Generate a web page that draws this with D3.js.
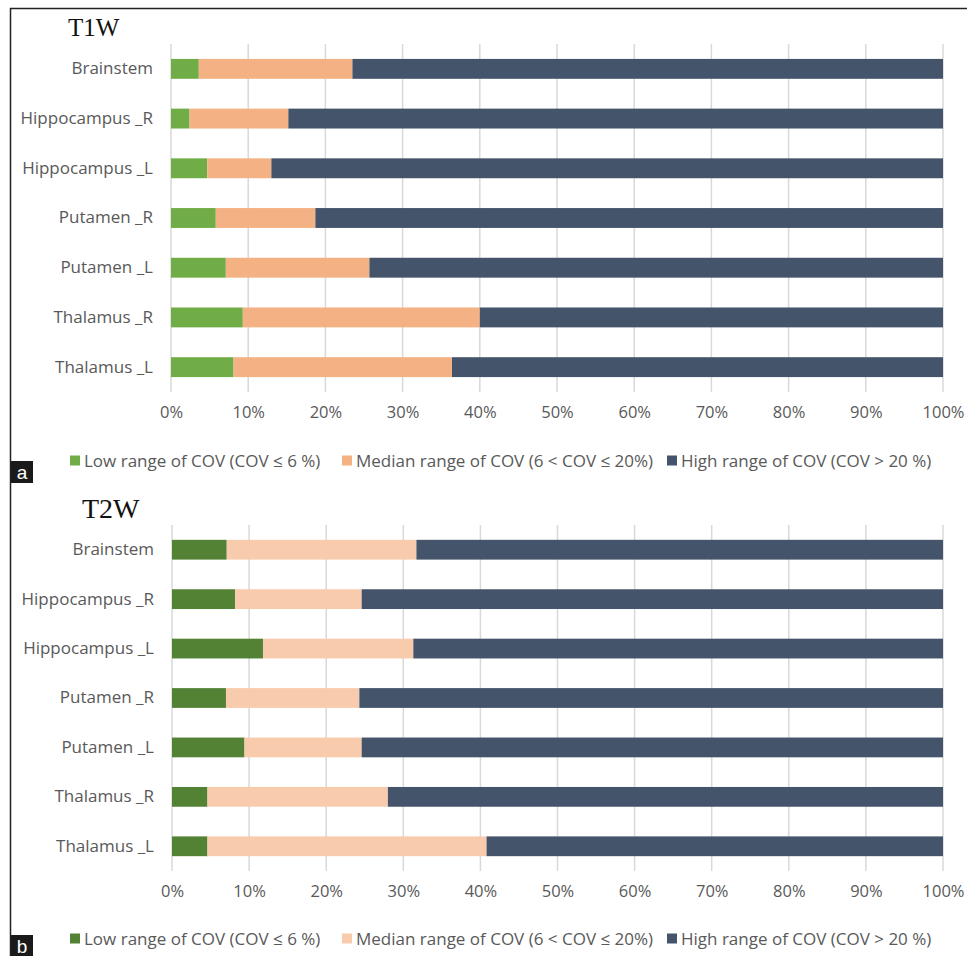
<!DOCTYPE html>
<html>
<head>
<meta charset="utf-8">
<script src="https://cdn.jsdelivr.net/npm/d3@7"></script>
<style>
  body { margin: 0; background: #fff; }
  svg { display: block; }
</style>
</head>
<body>
<svg id="chart" width="967" height="956"></svg>
<script>
// ---- Data ----
const categories = ["Brainstem", "Hippocampus _R", "Hippocampus _L", "Putamen _R", "Putamen _L", "Thalamus _R", "Thalamus _L"];
const seriesNames = ["Low range of COV (COV \u2264 6 %)", "Median range of COV (6 < COV \u2264 20%)", "High range of COV (COV > 20 %)"];
// T1W (percent)
const t1wLow    = [3.6, 2.4, 4.7, 5.8, 7.1, 9.3, 8.1];
const t1wMedian = [19.9, 12.8, 8.3, 12.9, 18.6, 30.7, 28.3];
const t1wHigh   = [76.5, 84.8, 87.0, 81.3, 74.3, 60.0, 63.6];
// T2W (percent)
const t2wLow    = [7.1, 8.2, 11.8, 7.0, 9.4, 4.6, 4.6];
const t2wMedian = [24.6, 16.4, 19.5, 17.3, 15.2, 23.4, 36.2];
const t2wHigh   = [68.3, 75.4, 68.7, 75.7, 75.4, 72.0, 59.2];
const tickValues = [0, 10, 20, 30, 40, 50, 60, 70, 80, 90, 100];

const svg = d3.select("#chart");
const FONT = "'Open Sans', 'Noto Sans', sans-serif";
const TEXT_COLOR = "#595959";

// outer frame lines
svg.append("line").attr("x1", 10.5).attr("x2", 10.5).attr("y1", 8).attr("y2", 956)
  .attr("stroke", "#222").attr("stroke-width", 1.5);
svg.append("line").attr("x1", 10).attr("x2", 967).attr("y1", 8.5).attr("y2", 8.5)
  .attr("stroke", "#222").attr("stroke-width", 1.5);

function drawPanel(cfg) {
  const g = svg.append("g");
  const x = d3.scaleLinear().domain([0, 100]).range([cfg.x0, cfg.x1]);
  const y = d3.scaleBand().domain(categories).range([cfg.yTop, cfg.yBottom])
    .paddingInner(0.6).paddingOuter(0.3);

  // title
  g.append("text").attr("x", cfg.titleX).attr("y", cfg.titleY)
    .attr("font-family", "'Liberation Serif', 'Times New Roman', serif")
    .attr("font-size", cfg.titleSize).attr("fill", "#111").text(cfg.title);

  // gridlines
  g.append("g").selectAll("line").data(tickValues).join("line")
    .attr("x1", d => x(d)).attr("x2", d => x(d))
    .attr("y1", cfg.yTop).attr("y2", cfg.yBottom)
    .attr("stroke", "#d9d9d9").attr("stroke-width", 1.5);

  // stacked bars
  const rows = categories.map((c, i) => ({ cat: c, vals: [cfg.low[i], cfg.median[i], cfg.high[i]] }));
  const stack = d3.stack().keys([0, 1, 2]).value((d, k) => d.vals[k]);
  const stacked = stack(rows);
  g.append("g").selectAll("g").data(stacked).join("g")
    .attr("fill", (d, i) => cfg.colors[i])
    .selectAll("rect").data(d => d).join("rect")
    .attr("x", d => x(d[0]))
    .attr("width", d => Math.max(0, x(Math.min(100, d[1])) - x(d[0])))
    .attr("y", d => y(d.data.cat))
    .attr("height", y.bandwidth());

  // category labels
  const yAxis = d3.axisLeft(y).tickSize(0).tickPadding(0);
  const ya = g.append("g").attr("transform", `translate(${cfg.x0 - 18},0)`).call(yAxis);
  ya.select(".domain").remove();
  ya.selectAll("text").attr("font-family", FONT).attr("font-size", 17).attr("fill", TEXT_COLOR);

  // x axis tick labels
  const xAxis = d3.axisBottom(x).tickValues(tickValues).tickFormat(d => d + "%").tickSize(0).tickPadding(0);
  const xa = g.append("g").attr("transform", `translate(0,${cfg.tickY})`).call(xAxis);
  xa.select(".domain").remove();
  xa.selectAll("text").attr("font-family", FONT).attr("font-size", 16.5).attr("fill", TEXT_COLOR);

  // legend
  const lg = g.append("g");
  seriesNames.forEach((name, i) => {
    lg.append("rect").attr("x", cfg.legendX[i]).attr("y", cfg.legendY - 5.5)
      .attr("width", 10).attr("height", 10).attr("fill", cfg.colors[i]);
    lg.append("text").attr("x", cfg.legendX[i] + 14).attr("y", cfg.legendY)
      .attr("dy", "0.35em").attr("font-family", FONT).attr("font-size", 17)
      .attr("fill", TEXT_COLOR).text(name);
  });

  // panel letter
  g.append("rect").attr("x", 11).attr("y", cfg.letterY).attr("width", 22).attr("height", 22).attr("fill", "#1a1a1a");
  g.append("text").attr("x", 22).attr("y", cfg.letterY + 11).attr("dy", "0.36em")
    .attr("text-anchor", "middle").attr("font-family", "'Liberation Sans', Arial, sans-serif")
    .attr("font-size", 19).attr("fill", "#fff").text(cfg.letter);
}

drawPanel({
  title: "T1W", titleX: 68, titleY: 36, titleSize: 25,
  x0: 171, x1: 943, yTop: 44, yBottom: 392, tickY: 406,
  low: t1wLow, median: t1wMedian, high: t1wHigh,
  colors: ["#70AD47", "#F4B183", "#44546A"],
  legendX: [70, 342, 667], legendY: 461, letter: "a", letterY: 461
});

drawPanel({
  title: "T2W", titleX: 82, titleY: 518, titleSize: 28,
  x0: 172, x1: 943, yTop: 525, yBottom: 871, tickY: 885,
  low: t2wLow, median: t2wMedian, high: t2wHigh,
  colors: ["#548235", "#F8CBAD", "#44546A"],
  legendX: [70, 342, 667], legendY: 939, letter: "b", letterY: 935
});
</script>
</body>
</html>
